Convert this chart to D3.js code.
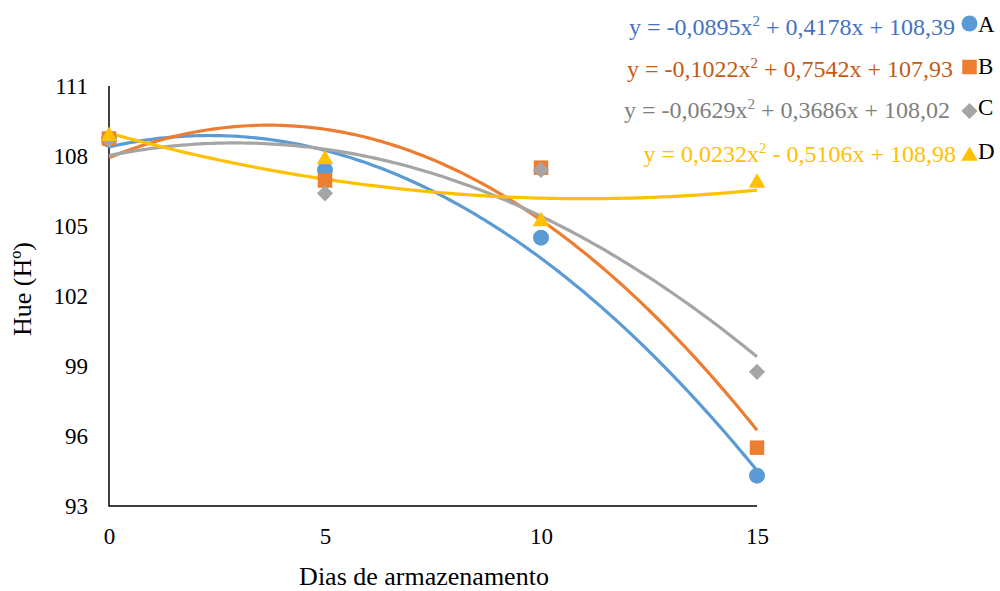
<!DOCTYPE html>
<html>
<head>
<meta charset="utf-8">
<script src="https://cdn.jsdelivr.net/npm/d3@7"></script>
<style>
  html, body { margin: 0; padding: 0; background: #fff; }
  svg { display: block; }
</style>
</head>
<body>
<svg id="chart" width="1000" height="591"></svg>
<script>
// Storage days (x axis)
const days = [0, 5, 10, 15];
const xTicks = [0, 5, 10, 15];
const yTicks = [93, 96, 99, 102, 105, 108, 111];

// Observed hue for each treatment
const seriesNames = ["A", "B", "C", "D"];
const valuesA = [108.7, 107.4, 104.5, 94.3];
const valuesB = [108.75, 106.95, 107.5, 95.5];
const valuesC = [108.7, 106.4, 107.4, 98.75];
const valuesD = [108.85, 107.85, 105.2, 106.85];

// Quadratic trendline coefficients [a, b, c] for y = a x² + b x + c
const coefA = [-0.0895, 0.4178, 108.39];
const coefB = [-0.1022, 0.7542, 107.93];
const coefC = [-0.0629, 0.3686, 108.02];
const coefD = [0.0232, -0.5106, 108.98];

// Trendline equation labels (split around the superscript)
const eqA = ["y = -0,0895x", "2", " + 0,4178x + 108,39"];
const eqB = ["y = -0,1022x", "2", " + 0,7542x + 107,93"];
const eqC = ["y = -0,0629x", "2", " + 0,3686x + 108,02"];
const eqD = ["y = 0,0232x", "2", " - 0,5106x + 108,98"];

const FONT = '"Liberation Serif"';

// Diamond drawn as a square turned 45 degrees
const diamond = {
  draw(ctx, size) {
    const r = Math.sqrt(size / 2);
    ctx.moveTo(0, -r); ctx.lineTo(r, 0); ctx.lineTo(0, r); ctx.lineTo(-r, 0); ctx.closePath();
  }
};

const series = [
  { name: seriesNames[0], values: valuesA, coef: coefA, eq: eqA, color: "#5B9BD5", text: "#4472C4", shape: d3.symbolCircle, size: 200 },
  { name: seriesNames[1], values: valuesB, coef: coefB, eq: eqB, color: "#ED7D31", text: "#C55A11", shape: d3.symbolSquare, size: 210 },
  { name: seriesNames[2], values: valuesC, coef: coefC, eq: eqC, color: "#A5A5A5", text: "#7F7F7F", shape: diamond, size: 130 },
  { name: seriesNames[3], values: valuesD, coef: coefD, eq: eqD, color: "#FFC000", text: "#FFC000", shape: d3.symbolTriangle, size: 120 }
];

const svg = d3.select("#chart");

const x = d3.scaleLinear().domain([0, 15]).range([109, 757]);
const y = d3.scaleLinear().domain([93, 111]).range([506, 86]);

// Axes: plain lines, no tick marks
svg.append("path")
  .attr("d", `M${x(0)},${y(111)}V${y(93)}H${x(15)}`)
  .attr("fill", "none").attr("stroke", "#000").attr("stroke-width", 1.5);

const yAxis = d3.axisLeft(y).tickValues(yTicks).tickSize(0).tickPadding(21);
svg.append("g").attr("transform", `translate(${x(0)},0)`).call(yAxis)
  .attr("font-family", FONT).attr("font-size", 23)
  .call(g => g.select(".domain").remove())
  .selectAll("text").style("font-family", FONT).attr("fill", "#000");

const xAxis = d3.axisBottom(x).tickValues(xTicks).tickSize(0).tickPadding(22);
svg.append("g").attr("transform", `translate(0,${y(93)})`).call(xAxis)
  .attr("font-family", FONT).attr("font-size", 23)
  .call(g => g.select(".domain").remove())
  .selectAll("text").style("font-family", FONT).attr("fill", "#000");

// Axis titles
svg.append("text").attr("x", 424).attr("y", 585).attr("text-anchor", "middle")
  .style("font-family", FONT).attr("font-size", 26).text("Dias de armazenamento");
svg.append("text").attr("transform", "translate(31,289) rotate(-90)").attr("text-anchor", "middle")
  .style("font-family", FONT).attr("font-size", 26).text("Hue (Hº)");

// Trendlines
const xs = d3.range(0, 15.001, 0.1);
const line = d3.line().x(d => x(d[0])).y(d => y(d[1]));
series.forEach(s => {
  const pts = xs.map(t => [t, s.coef[0] * t * t + s.coef[1] * t + s.coef[2]]);
  svg.append("path").datum(pts).attr("d", line)
    .attr("fill", "none").attr("stroke", s.color).attr("stroke-width", 3.2);
});

// Markers
series.forEach(s => {
  svg.append("g").selectAll("path").data(days.map((d, i) => [d, s.values[i]])).join("path")
    .attr("transform", d => `translate(${x(d[0])},${y(d[1])})`)
    .attr("d", d3.symbol().type(s.shape).size(s.size))
    .attr("fill", s.color);
});

// Legend with trendline equations
const eqBase = [35, 77, 118, 162];
const eqRight = [955, 953, 950, 956];
const markY = [23.5, 67, 111, 156];
series.forEach((s, i) => {
  const t = svg.append("text").attr("x", eqRight[i]).attr("y", eqBase[i]).attr("text-anchor", "end")
    .style("font-family", FONT).attr("font-size", 24).attr("fill", s.text);
  t.append("tspan").text(s.eq[0]);
  t.append("tspan").attr("dy", -9).attr("font-size", 15).text(s.eq[1]);
  t.append("tspan").attr("dy", 9).text(s.eq[2]);
  svg.append("path").attr("transform", `translate(969.5,${markY[i]})`)
    .attr("d", d3.symbol().type(s.shape).size(s.size)).attr("fill", s.color);
  svg.append("text").attr("x", 978).attr("y", eqBase[i] - 3)
    .style("font-family", FONT).attr("font-size", 23).attr("fill", "#000").text(s.name);
});
</script>
</body>
</html>
